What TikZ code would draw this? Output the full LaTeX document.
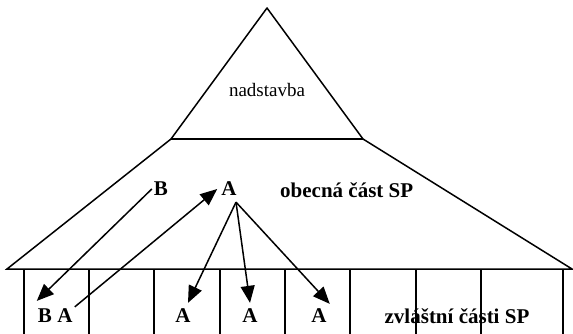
\documentclass[tikz,border=0pt]{standalone}
\usepackage{fontspec}
\setmainfont{Liberation Serif}
\usetikzlibrary{arrows.meta}
\begin{document}
\begin{tikzpicture}[x=1pt,y=-1pt,
  edge/.style={line width=1.5pt},
  arr/.style={line width=1.5pt,-{Triangle[length=17pt,width=14pt]}},
  lbl/.style={font=\fontsize{21}{21}\selectfont\bfseries,inner sep=2pt},
  title/.style={font=\fontsize{19}{19}\selectfont,inner sep=0pt}]
\useasboundingbox (0,0) rectangle (573,334);
% upper triangle
\draw[edge,line join=round] (267,8) -- (363,139) -- (171,139) -- cycle;
\draw[line width=2.2pt] (171,139) -- (363,139);
% trapezoid of the general part
\draw[edge] (171,139) -- (7,269) -- (572,269) -- (363,139);
% columns of the special parts
\foreach \x in {24,89,154,220,285,350,416,481,563}
  \draw[edge] (\x,269) -- (\x,336);
% texts
\node[title] (nad) at (267,90) {nadstavba};
\node[lbl] (Btop) at (161,189) {B};
\node[lbl] (Atop) at (229,189) {A};
\node[lbl,anchor=west] (obec) at (278,190) {obecná část SP};
\node[lbl] (b1) at (45,316) {B};
\node[lbl] (a1) at (65,316) {A};
\node[lbl] (a2) at (183,316) {A};
\node[lbl] (a3) at (250,316) {A};
\node[lbl] (a4) at (319,316) {A};
\node[lbl] (zv) at (457,316) {zvláštní části SP};
\coordinate (fork) at ([xshift=7pt,yshift=-4pt]Atop.south);
% arrows
\draw[arr] (Btop.west) -- ([shift={(1pt,6pt)}]b1.north west);
\draw[arr] (a1.north east) -- ([xshift=-2pt]Atop.west);
\draw[arr] (fork) -- ([shift={(5pt,4pt)}]a2.north);
\draw[arr] (fork) -- ([yshift=4pt]a3.north);
\draw[arr] (fork) -- ([shift={(1pt,3pt)}]a4.north east);
\end{tikzpicture}
\end{document}
